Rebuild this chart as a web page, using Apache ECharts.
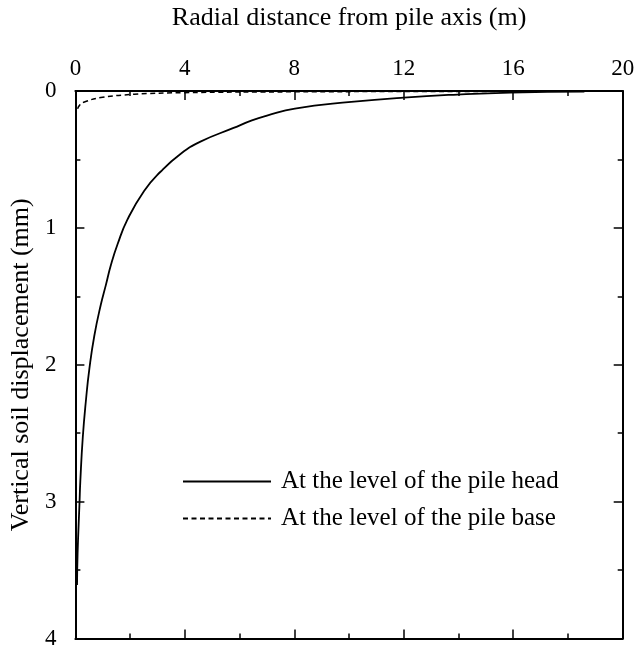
<!DOCTYPE html>
<html>
<head>
<meta charset="utf-8">
<script src="https://cdn.jsdelivr.net/npm/echarts@6/dist/echarts.min.js"></script>
<style>html,body{margin:0;padding:0;background:#fff}#c{width:638px;height:650px}</style>
</head>
<body>
<div id="c"></div>
<script>
const xTitle = 'Radial distance from pile axis (m)';
const yTitle = 'Vertical soil displacement (mm)';
const seriesNames = ['At the level of the pile head', 'At the level of the pile base'];
const headX = [0.06, 0.08, 0.15, 0.18, 0.27, 0.39, 0.51, 0.69, 0.93, 1.11, 1.3, 1.54, 1.90, 2.51, 3.11, 3.84, 4.57, 5.78, 6.45, 7.0, 8.02, 10.08, 12.0, 13.96, 15.9, 18.6];
const headY = [3.61, 3.38, 3.01, 2.85, 2.53, 2.25, 2.03, 1.79, 1.56, 1.42, 1.27, 1.12, 0.94, 0.73, 0.59, 0.46, 0.37, 0.27, 0.215, 0.18, 0.128, 0.08, 0.048, 0.026, 0.012, 0.005];
const baseX = [0.08, 0.15, 0.33, 0.93, 2.15, 3.96, 8.0, 12.0, 18.6];
const baseY = [0.13, 0.105, 0.08, 0.048, 0.024, 0.012, 0.006, 0.004, 0.002];

const font = 'Liberation Serif';
const chart = echarts.init(document.getElementById('c'), null, {renderer: 'canvas'});
const axisLine = {show: true, onZero: false, lineStyle: {color: '#000', width: 2}};
const tick = {show: true, inside: true, length: 9, lineStyle: {color: '#000', width: 1.5}};
const minor = {show: true, splitNumber: 2, length: 5, lineStyle: {color: '#000', width: 1.5}};
chart.setOption({
  animation: false,
  grid: {left: 72.7, right: 15.3, top: 90.7, bottom: 8},
  textStyle: {fontFamily: font},
  legend: {
    orient: 'vertical', left: 182, top: 469, padding: 0,
    itemWidth: 88, itemHeight: 20, itemGap: 12,
    itemStyle: {color: 'rgba(0,0,0,0)', borderWidth: 0, opacity: 0},
    textStyle: {fontFamily: font, fontSize: 25, color: '#000', padding: [0, 0, 0, 5]},
    data: seriesNames
  },
  xAxis: [{
    type: 'value', position: 'top', min: 0, max: 20, interval: 4,
    name: xTitle, nameLocation: 'middle', nameGap: 60,
    nameTextStyle: {fontFamily: font, fontSize: 26, color: '#000'},
    axisLine, axisTick: tick, minorTick: minor, splitLine: {show: false},
    axisLabel: {fontFamily: font, fontSize: 23, color: '#000', margin: 11}
  }, {
    type: 'value', position: 'bottom', min: 0, max: 20, interval: 4,
    axisLine, axisTick: tick, minorTick: minor, splitLine: {show: false},
    axisLabel: {show: false}
  }],
  yAxis: [{
    type: 'value', position: 'left', inverse: true, min: 0, max: 4, interval: 1,
    name: yTitle, nameLocation: 'middle', nameGap: 37,
    nameTextStyle: {fontFamily: font, fontSize: 26, color: '#000'},
    axisLine, axisTick: tick, minorTick: minor, splitLine: {show: false},
    axisLabel: {fontFamily: font, fontSize: 23, color: '#000', margin: 19}
  }, {
    type: 'value', position: 'right', inverse: true, min: 0, max: 4, interval: 1,
    axisLine, axisTick: tick, minorTick: minor, splitLine: {show: false},
    axisLabel: {show: false}
  }],
  series: [{
    name: seriesNames[0], type: 'line', xAxisIndex: 0, yAxisIndex: 0,
    data: headX.map((x, i) => [x, headY[i]]),
    showSymbol: false, symbol: 'none', smooth: 0.5,
    lineStyle: {color: '#000', width: 1.8, type: 'solid'}, itemStyle: {color: '#000'}
  }, {
    name: seriesNames[1], type: 'line', xAxisIndex: 0, yAxisIndex: 0,
    data: baseX.map((x, i) => [x, baseY[i]]),
    showSymbol: false, symbol: 'none', smooth: 0.4,
    lineStyle: {color: '#000', width: 1.5, type: [5, 3.5]}, itemStyle: {color: '#000'}
  }]
});
</script>
</body>
</html>
